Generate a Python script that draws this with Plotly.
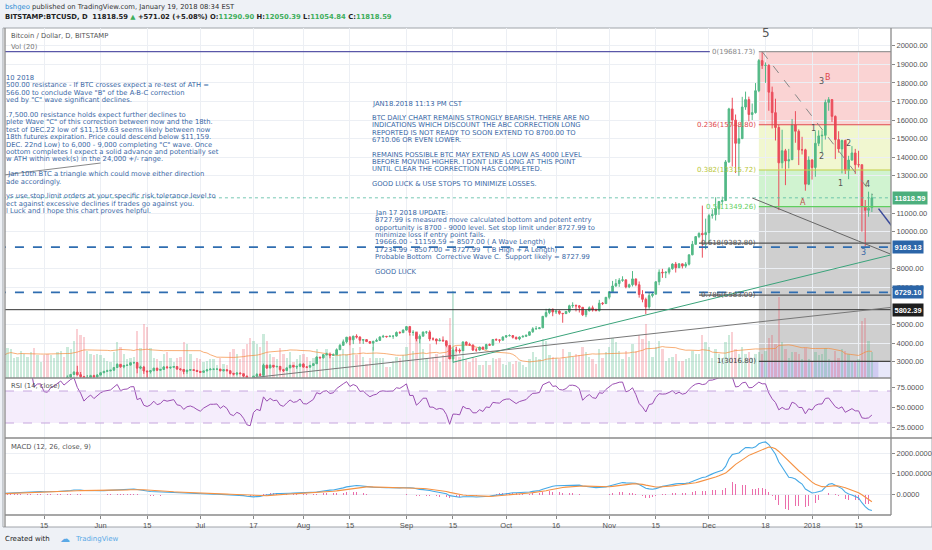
import pandas as pd
import plotly.graph_objects as go

W, H = 932, 550

# ---- data -------------------------------------------------------------
start_date = "2017-05-01"
warmup_closes = [1180, 1185, 1205, 1211, 1222, 1251, 1257, 1245, 1250, 1249, 1265, 1290, 1338, 1330, 1340, 1351]

closes = [
    # May
    1421, 1452, 1490, 1537, 1555, 1578, 1596, 1723, 1755, 1787, 1848, 1724, 1804, 1809, 1739, 1734, 1839, 1888,
    1987, 2084, 2041, 2173, 2320, 2443, 2304, 2203, 2038, 2155, 2255, 2175, 2286,
    # Jun
    2407, 2488, 2515, 2545, 2691, 2863, 2732, 2805, 2823, 2947, 2958, 2659, 2717, 2506, 2464, 2518, 2655, 2548,
    2589, 2721, 2689, 2705, 2744, 2608, 2590, 2478, 2552, 2574, 2539, 2480,
    # Jul
    2434, 2506, 2564, 2601, 2601, 2608, 2518, 2571, 2518, 2372, 2337, 2398, 2357, 2233, 1977, 1929, 2228, 2318,
    2273, 2817, 2667, 2810, 2730, 2754, 2577, 2529, 2671, 2809, 2726, 2757, 2875,
    # Aug
    2718, 2710, 2804, 2895, 3252, 3213, 3378, 3419, 3342, 3381, 3650, 3884, 4073, 4325, 4181, 4376, 4331, 4160,
    4193, 4087, 4001, 4100, 4151, 4334, 4371, 4352, 4382, 4382, 4579, 4565, 4703,
    # Sep
    4892, 4578, 4582, 4236, 4376, 4597, 4599, 4228, 4226, 4122, 4161, 4130, 3882, 3154, 3637, 3625, 3582, 4065,
    3924, 3905, 3631, 3630, 3792, 3682, 3926, 3892, 4200, 4174, 4163, 4338,
    # Oct
    4403, 4409, 4317, 4229, 4328, 4370, 4426, 4610, 4772, 4781, 4826, 5446, 5648, 5831, 5678, 5725, 5605, 5590,
    5708, 6011, 6031, 6008, 5930, 5526, 5750, 5904, 5780, 5753, 6153, 6130, 6468,
    # Nov
    6767, 7078, 7207, 7379, 7407, 7022, 7144, 7459, 7143, 6618, 6357, 5950, 6559, 6635, 7301, 7815, 7786, 7817,
    8007, 8255, 8059, 8268, 8148, 8250, 8753, 9318, 9733, 9906, 9837, 9946,
    # Dec
    10861, 10912, 11246, 11623, 11667, 13750, 16600, 16000, 14750, 15000, 16700, 17100, 16300, 16400, 17580,
    19200, 18940, 18950, 17500, 16400, 15600, 13700, 14350, 13800, 13870, 15750, 15400, 14400, 14400, 12550, 13850,
    # Jan
    13450, 14750, 15150, 15180, 16950, 17100, 16200, 14950, 14450, 14900, 13300, 13850, 14230, 13600, 13600,
    11350, 11150, 11247.57, 11818.59,
]

highs = [
    1430, 1473, 1496, 1614, 1609, 1596, 1625, 1728, 1800, 1795, 1872, 1850, 1808, 1830, 1810, 1768, 1861, 1900,
    1987, 2095, 2100, 2269, 2320, 2489, 2785, 2450, 2240, 2290, 2300, 2301, 2339,
    2435, 2488, 2570, 2568, 2700, 2913, 2870, 2806, 2840, 2950, 3000, 2980, 2790, 2780, 2520, 2528, 2680, 2675,
    2620, 2770, 2780, 2730, 2765, 2746, 2660, 2600, 2560, 2605, 2590, 2555,
    2510, 2520, 2615, 2655, 2630, 2622, 2612, 2575, 2590, 2530, 2408, 2420, 2420, 2370, 2240, 2060, 2240, 2390,
    2395, 2900, 2840, 2860, 2825, 2775, 2770, 2620, 2695, 2835, 2810, 2765, 2905,
    2920, 2760, 2815, 2900, 3290, 3265, 3410, 3490, 3425, 3450, 3720, 3965, 4200, 4330, 4380, 4400, 4480, 4370,
    4200, 4200, 4110, 4130, 4250, 4370, 4450, 4385, 4400, 4395, 4630, 4640, 4745,
    4925, 4930, 4700, 4585, 4475, 4630, 4660, 4690, 4315, 4240, 4275, 4365, 4130, 3900, 3780, 3815, 3720, 4100,
    4090, 4025, 3915, 3750, 3800, 3800, 3970, 3985, 4215, 4260, 4200, 4360,
    4410, 4475, 4435, 4355, 4365, 4420, 4455, 4620, 4860, 4920, 4870, 5450, 5850, 5850, 5855, 5780, 5770, 5610,
    5720, 6070, 6200, 6080, 6050, 5940, 5800, 5980, 6020, 5860, 6330, 6210, 6470,
    6780, 7350, 7450, 7500, 7600, 7420, 7200, 7880, 7460, 7320, 6850, 6450, 6750, 6740, 7330, 7970, 8000, 7860,
    8100, 8300, 8370, 8300, 8270, 8360, 8770, 9500, 9740, 9960, 11400, 10700,
    10960, 11200, 11850, 11650, 11880, 13850, 16660, 17200, 16300, 15700, 17250, 17530, 17260, 16890, 17990,
    19280, 19666, 19100, 19000, 17800, 17150, 15750, 15480, 14450, 14450, 16060, 16480, 15500, 15100, 14460, 14050,
    13900, 15400, 15450, 15450, 17100, 17234.99, 17120, 16250, 15400, 14950, 14950, 14080, 14600, 14450, 14350,
    13600, 11700, 12150, 12050.39,
]

lows = [
    1347, 1412, 1440, 1490, 1500, 1546, 1545, 1592, 1711, 1722, 1784, 1682, 1612, 1778, 1675, 1660, 1713, 1817,
    1880, 1980, 1990, 2034, 2150, 2300, 2260, 1980, 1810, 2022, 2113, 2135, 2145,
    2275, 2400, 2460, 2483, 2530, 2685, 2680, 2654, 2775, 2810, 2890, 2380, 2600, 2350, 2120, 2370, 2500, 2500,
    2520, 2580, 2620, 2620, 2690, 2580, 2520, 2330, 2355, 2505, 2520, 2465,
    2395, 2405, 2500, 2560, 2550, 2590, 2485, 2480, 2515, 2320, 2270, 2265, 2340, 2160, 1970, 1840, 1925, 2210,
    2255, 2265, 2620, 2655, 2680, 2710, 2470, 2450, 2525, 2665, 2695, 2620, 2730,
    2680, 2660, 2705, 2780, 2880, 3160, 3175, 3340, 3190, 3325, 3370, 3630, 3860, 3990, 3890, 3950, 4250, 3970,
    3960, 4060, 3980, 3600, 4080, 4120, 4300, 4300, 4330, 4235, 4355, 4510, 4560,
    4680, 4410, 4400, 4100, 3995, 4370, 4500, 4110, 4140, 3935, 4115, 4075, 3780, 3150, 2975, 3515, 3450, 3580,
    3860, 3860, 3580, 3540, 3600, 3660, 3680, 3870, 3890, 4150, 4030, 4155,
    4280, 4370, 4250, 4210, 4160, 4325, 4330, 4415, 4560, 4735, 4760, 4825, 5380, 5560, 5450, 5570, 5530, 5100,
    5570, 5620, 5900, 5710, 5650, 5460, 5400, 5700, 5700, 5720, 5700, 6050, 6110,
    6360, 6765, 7030, 7030, 7300, 6950, 6960, 7050, 7060, 6450, 6200, 5560, 5850, 6460, 6630, 7120, 7515, 7500,
    7700, 7950, 7800, 8050, 8020, 8050, 8180, 8730, 9300, 9650, 8600, 9050,
    9400, 10700, 10600, 10900, 11460, 11650, 13700, 13500, 13150, 13000, 15000, 16550, 15930, 16000, 16350,
    17500, 18750, 18000, 16500, 15550, 14900, 11159.63, 13400, 12500, 13400, 13870, 14780, 13580, 14150, 12200, 12500,
    12800, 12950, 14600, 14200, 14950, 16500, 15900, 13900, 14250, 13130, 13100, 12820, 13820, 13100, 13450,
    10000, 9200, 10800, 11054.84,
]

volumes = [
    14000, 15000, 19000, 21000, 20000, 14000, 15000, 19000, 17000, 15000, 18000, 21000, 16000, 11000, 16000, 17000,
    16000, 14000, 18000, 19000, 15000, 22000, 20000, 26000, 34000, 30000, 29000, 19000, 17000, 16000, 17000,
    16000, 14000, 12000, 11000, 18000, 25000, 22000, 17000, 13000, 14000, 15000, 33000, 21000, 38000, 36000, 21000,
    14000, 13000, 12000, 17000, 18000, 14000, 11000, 14000, 15000, 25000, 24000, 17000, 12000, 14000,
    13000, 11000, 12000, 13000, 13000, 9000, 14000, 10000, 9000, 18000, 20000, 17000, 13000, 20000, 24000, 28000,
    26000, 24000, 22000, 31000, 26000, 17000, 15000, 13000, 21000, 17000, 14000, 18000, 11000, 13000, 16000,
    17000, 15000, 12000, 14000, 20000, 13000, 17000, 20000, 18000, 15000, 18000, 17000, 20000, 17000, 27000, 21000,
    16000, 22000, 15000, 10000, 14000, 22000, 14000, 14000, 14000, 8000, 8000, 12000, 15000, 14000, 16000,
    22000, 31000, 19000, 33000, 28000, 20000, 13000, 24000, 15000, 17000, 11000, 16000, 25000, 42000, 61000, 22000,
    15000, 18000, 13000, 11000, 15000, 14000, 9000, 9000, 12000, 9000, 14000, 13000, 14000, 10000,
    9000, 11000, 10000, 12000, 11000, 9000, 8000, 13000, 18000, 15000, 13000, 27000, 26000, 16000, 15000, 14000,
    13000, 20000, 14000, 18000, 15000, 17000, 16000, 22000, 18000, 15000, 13000, 10000, 20000, 14000, 18000,
    22000, 28000, 25000, 19000, 13000, 19000, 15000, 24000, 19000, 30000, 27000, 38000, 26000, 15000, 22000, 26000,
    20000, 12000, 14000, 15000, 17000, 12000, 12000, 13000, 14000, 19000, 17000, 17000, 30000, 25000,
    22000, 14000, 20000, 17000, 14000, 25000, 30000, 32000, 20000, 17000, 22000, 17000, 18000, 14000, 17000, 18000,
    17000, 19000, 28000, 30000, 24000, 57000, 25000, 20000, 14000, 18000, 18000, 17000, 13000, 21000, 13000,
    12000, 18000, 16000, 17000, 21000, 13000, 12000, 19000, 14000, 20000, 19000, 17000, 11000, 12000, 13000,
    40000, 42000, 26000, 18000,
]

last_open, last_high, last_low, last_close = 11290.90, 12050.39, 11054.84, 11818.59
last_change, last_change_pct = 571.02, 5.08

fib_levels = [0, 0.236, 0.382, 0.5, 0.618, 0.786, 1]
fib_prices = [19681.73, 15748.80, 13315.72, 11349.26, 9382.80, 6583.09, 3016.80]
fib_start = "2017-12-16"

dashed_levels = [9163.13, 6729.10]
black_level = 5802.39

# trend lines drawn on the chart: (date, price) anchors
green_trend = [("2017-09-15", 2975), ("2018-01-25", 8760)]
gray_trend = [("2017-07-17", 2150), ("2018-01-25", 5930)]
down_trend = [("2017-12-14", 11810), ("2018-01-24 12:00", 8800)]
fib_diag = [("2017-12-17", 19681.73), ("2018-01-19 06:00", 11970)]
arrow_line = [("2018-01-21", 11240), ("2018-01-25", 10300)]
note_line = [("2017-05-03", 13050), ("2017-06-01", 13690)]

wave_labels = [
    ("2017-12-18", 20683, "5"), ("2018-01-05 18:00", 18315, "B"), ("2018-01-03 22:00", 18050, "3"),
    ("2018-01-01 10:00", 15557, "1"), ("2018-01-03 18:00", 14030, "2"), ("2018-01-11 22:00", 14750, "2"),
    ("2018-01-09 14:00", 12598, "1"), ("2018-01-17 16:00", 12560, "4"), ("2017-12-29 08:00", 11555, "A"),
    ("2018-01-16 14:00", 8888, "3"),
]

left_note = [
    "10 2018",
    "500.00 resistance - If BTC crosses expect a re-test of ATH =",
    "566.00 to conclude Wave \"B\" of tbe A-B-C correction",
    "ved by \"C\" wave significant declines.",
    "",
    ".7,500.00 resistance holds expect further declines to",
    "plete Wave \"C\" of this correction between now and the 18th.",
    "test of DEC.22 low of $11,159.63 seems likely between now",
    "18th futures expiration. Price could descend below $11,159.",
    "DEC. 22nd Low) to 6,000 - 9,000 completing \"C\" wave. Once",
    "oottom completes I expect a solid advance and potentially set",
    "w ATH within week(s) in the 24,000 +/- range.",
    "",
    " Jan 10th BTC a triangle which could move either direction",
    "ade accordingly.",
    "",
    "ys use stop limit orders at your specific risk tolerance level to",
    "ect against excessive declines if trades go against you.",
    "l Luck and I hope this chart proves helpful.",
]

mid_note = [
    "JAN18.2018 11:13 PM CST",
    "",
    "BTC DAILY CHART REMAINS STRONGLY BEARISH. THERE ARE NO",
    "INDICATIONS WHICH DISCOUNT THE ABC CORRECTION LONG",
    "REPORTED IS NOT READY TO SOON EXTEND TO 8700.00 TO",
    "6710.06 OR EVEN LOWER.",
    "",
    "REMAINS POSSIBLE BTC MAY EXTEND AS LOW AS 4000 LEVEL",
    "BEFORE MOVING HIGHER. I DONT LIKE LONG AT THIS POINT",
    "UNTIL CLEAR THE CORRECTION HAS COMPLETED.",
    "",
    "GOOD LUCK & USE STOPS TO MINIMIZE LOSSES.",
]

update_note = [
    "Jan 17 2018 UPDATE:",
    "8727.99 is measured move calculated bottom and potent entry",
    "opportunity is 8700 - 9000 level. Set stop limit under 8727.99 to",
    "minimize loss if entry point fails.",
    "19666.00 - 11159.59 = 8507.00 ( A Wave Length)",
    "17234.99 - 8507.00 = 8727.99   ( B High + A Length)",
    "Probable Bottom  Corrective Wave C.  Support likely = 8727.99",
    "",
    "GOOD LUCK",
]

tick_dates = ["2017-05-15", "2017-06-01", "2017-06-15", "2017-07-01", "2017-07-17", "2017-08-01", "2017-08-15",
              "2017-09-01", "2017-09-15", "2017-10-01", "2017-10-16", "2017-11-01", "2017-11-15", "2017-12-01",
              "2017-12-18", "2018-01-01", "2018-01-15"]
tick_text = ["15", "Jun", "15", "Jul", "17", "Aug", "15", "Sep", "15", "Oct", "16", "Nov", "15", "Dec", "18",
             "2018", "15"]
price_ticks = [3000, 4000, 5000, 7000, 8000, 10000, 11000, 13000, 14000, 15000, 16000, 17000, 18000, 19000, 20000]

assert len(closes) == len(highs) == len(lows) == len(volumes)

# ---- derived series ---------------------------------------------------
dates = pd.date_range(start_date, periods=len(closes), freq="D")
opens = [warmup_closes[-1]] + closes[:-1]
opens[-1] = last_open

full = pd.Series(warmup_closes + closes, dtype=float)
n_warm = len(warmup_closes)

delta = full.diff()
avg_up = delta.clip(lower=0).ewm(alpha=1 / 14, adjust=False).mean()
avg_dn = (-delta.clip(upper=0)).ewm(alpha=1 / 14, adjust=False).mean()
rsi = (100 - 100 / (1 + avg_up / avg_dn)).iloc[n_warm:].values

macd = (full.ewm(span=12, adjust=False).mean() - full.ewm(span=26, adjust=False).mean())
signal = macd.ewm(span=9, adjust=False).mean()
hist = (macd - signal).iloc[n_warm:].values
macd = macd.iloc[n_warm:].values
signal = signal.iloc[n_warm:].values

vol_ma = pd.Series(volumes, dtype=float).rolling(20, min_periods=1).mean().values

GREEN, RED = "#53b987", "#eb4d5c"
up = [c >= o for o, c in zip(opens, closes)]
vol_colors = ["rgba(83,185,135,0.30)" if u else "rgba(235,77,92,0.26)" for u in up]

# ---- geometry helpers -------------------------------------------------
def PX(x):
    return x / W


def PY(y):
    return 1 - y / H


X0, X1 = 5, 891
MAIN = [PY(378), PY(28)]
RSI_D = [PY(438), PY(378)]
MACD_D = [PY(515), PY(438)]
NOTE = "#3b69a6"
FONT = "DejaVu Sans"
AXF = dict(family="Liberation Sans", size=7.5, color="#555")

fig = go.Figure()
fig.add_trace(go.Bar(x=dates, y=volumes, marker=dict(color=vol_colors, line_width=0),
                     width=0.7 * 86400000, xaxis="x", yaxis="y"))
fig.add_trace(go.Scatter(x=dates, y=vol_ma, mode="lines", line=dict(color="rgba(245,140,60,0.7)", width=1),
                         xaxis="x", yaxis="y"))
fig.add_trace(go.Candlestick(x=dates, open=opens, high=highs, low=lows, close=closes, whiskerwidth=0,
                             increasing=dict(line=dict(color=GREEN, width=1), fillcolor=GREEN),
                             decreasing=dict(line=dict(color=RED, width=1), fillcolor=RED),
                             xaxis="x", yaxis="y2"))
fig.add_trace(go.Scatter(x=dates, y=rsi, mode="lines", line=dict(color="#9b4fb3", width=1),
                         xaxis="x", yaxis="y3"))
fig.add_trace(go.Bar(x=dates, y=hist, marker=dict(color="rgba(232,85,156,0.85)", line_width=0),
                     width=0.22 * 86400000, xaxis="x", yaxis="y4"))
fig.add_trace(go.Scatter(x=dates, y=macd, mode="lines", line=dict(color="#46a9e6", width=1.1),
                         xaxis="x", yaxis="y4"))
fig.add_trace(go.Scatter(x=dates, y=signal, mode="lines", line=dict(color="#f59243", width=1.1),
                         xaxis="x", yaxis="y4"))

shapes = []
# chart box
shapes.append(dict(type="rect", xref="paper", yref="paper", x0=PX(3), x1=PX(932), y0=PY(527), y1=PY(28),
                   fillcolor="white", line=dict(color="#a0a4aa", width=1), layer="below"))

# fib bands
band_colors = ["rgba(240,110,110,0.30)", "rgba(225,238,150,0.45)", "rgba(150,228,150,0.45)",
               "rgba(140,140,140,0.42)", "rgba(140,140,140,0.42)", "rgba(140,140,140,0.42)"]
for i, col in enumerate(band_colors):
    shapes.append(dict(type="rect", xref="x", yref="y2", x0=fib_start, x1="2018-02-10",
                       y0=fib_prices[i + 1], y1=fib_prices[i], fillcolor=col, line_width=0, layer="below"))
shapes.append(dict(type="rect", xref="x", yref="y2", x0=fib_start, x1="2018-01-21", y0=0, y1=fib_prices[-1],
                   fillcolor="rgba(150,140,225,0.45)", line_width=0, layer="below"))
shapes.append(dict(type="rect", xref="x", yref="y2", x0="2018-01-21", x1="2018-02-10", y0=0, y1=fib_prices[-1],
                   fillcolor="rgba(190,190,240,0.35)", line_width=0, layer="below"))

fib_line_colors = ["#999", "#e0474c", "#c3cf45", "#5fcf5f", "#555", "#555", "#444"]
fib_text_colors = ["#888", "#e0474c", "#b9c637", "#5fcf5f", "#555", "#555", "#444"]
for p, col in zip(fib_prices, fib_line_colors):
    shapes.append(dict(type="line", xref="x", yref="y2", x0=fib_start, x1="2018-02-10", y0=p, y1=p,
                       line=dict(color=col, width=1.2)))
for p in fib_prices[4:6]:
    shapes.append(dict(type="line", xref="x", yref="y2", x0="2017-11-28", x1=fib_start, y0=p, y1=p,
                       line=dict(color="#555", width=1.2)))

# horizontal levels
shapes.append(dict(type="line", xref="x", yref="y2", x0="2017-04-20", x1="2017-12-01 06:00",
                   y0=fib_prices[0], y1=fib_prices[0], line=dict(color="#5a57a8", width=1.3)))
for p in dashed_levels:
    shapes.append(dict(type="line", xref="x", yref="y2", x0="2017-04-20", x1="2018-02-10", y0=p, y1=p,
                       line=dict(color="#2f6db0", width=1.8, dash="dash")))
shapes.append(dict(type="line", xref="x", yref="y2", x0="2017-04-20", x1="2018-02-10", y0=black_level,
                   y1=black_level, line=dict(color="#333", width=1)))
shapes.append(dict(type="line", xref="x", yref="y2", x0="2017-04-20", x1="2018-02-10", y0=last_close,
                   y1=last_close, line=dict(color="#53b9a0", width=0.8, dash="dot")))

# trend lines
for pts, col, w, dash in [(green_trend, "#3aa37a", 1, "solid"), (gray_trend, "#777", 1, "solid"),
                          (down_trend, "#666", 1, "solid"), (fib_diag, "#888", 1, "dash"),
                          (arrow_line, "#3a4a9a", 1.5, "solid"), (note_line, "#888", 1, "solid")]:
    shapes.append(dict(type="line", xref="x", yref="y2", x0=pts[0][0], y0=pts[0][1], x1=pts[1][0],
                       y1=pts[1][1], line=dict(color=col, width=w, dash=dash)))

# RSI band
shapes.append(dict(type="rect", xref="paper", yref="y3", x0=PX(X0), x1=PX(X1), y0=30, y1=70,
                   fillcolor="rgba(170,110,230,0.12)", line_width=0, layer="below"))
for lvl in (30, 70):
    shapes.append(dict(type="line", xref="paper", yref="y3", x0=PX(X0), x1=PX(X1), y0=lvl, y1=lvl,
                       line=dict(color="#c6a6de", width=1, dash="dash")))

# pane borders
for y, x1 in [(378, X1), (438, 932), (515, X1)]:
    shapes.append(dict(type="line", xref="paper", yref="paper", x0=PX(X0), x1=PX(x1), y0=PY(y), y1=PY(y),
                       line=dict(color="#8a8a8a", width=1.3)))
shapes.append(dict(type="line", xref="paper", yref="paper", x0=PX(X1), x1=PX(X1), y0=PY(515), y1=PY(28),
                   line=dict(color="#8a8a8a", width=1.3)))
shapes.append(dict(type="line", xref="paper", yref="paper", x0=PX(X0), x1=PX(X0), y0=PY(527), y1=PY(28),
                   line=dict(color="#8a8a8a", width=1.3)))

ann = []


def txt(x, y, s, color="#555", size=6.8, anchor="left", family=FONT, **kw):
    ann.append(dict(x=PX(x), y=PY(y), xref="paper", yref="paper", text=s, showarrow=False,
                    xanchor=anchor, yanchor="middle", font=dict(family=family, size=size, color=color), **kw))


# header
txt(3, 7, "<span style='color:#2a8ad4'>bshgeo</span> published on TradingView.com, January 19, 2018 08:34 EST",
    color="#333")
hdr = (f"<b>BITSTAMP:BTCUSD, D  {last_close:.2f} <span style='color:#3fae5c'>▲</span> "
       f"+{last_change:.2f} (+{last_change_pct:.2f}%) O:<span style='color:#3fae5c'>{last_open:.2f}</span> "
       f"H:<span style='color:#3fae5c'>{last_high:.2f}</span> L:<span style='color:#3fae5c'>{last_low:.2f}</span> "
       f"C:<span style='color:#3fae5c'>{last_close:.2f}</span></b>")
txt(3, 17, hdr, color="#222")
txt(9, 36, "Bitcoin / Dollar, D, BITSTAMP", color="#555")
txt(9, 47, "Vol (20)", color="#777")
txt(9, 386, "RSI (14, close)", color="#555")
txt(9, 447, "MACD (12, 26, close, 9)", color="#555")
txt(3, 539, "Created with", color="#222", size=7)
txt(58, 538, "☁", color="#5aa9e6", size=10)
txt(73, 539, "TradingView", color="#5aa9e6", size=7)

# notes
for i, s in enumerate(left_note):
    if s:
        txt(4, 78 + i * 7.4, s, color=NOTE)
for i, s in enumerate(mid_note):
    if s:
        txt(370, 103.5 + i * 7.3, s, color=NOTE)
for i, s in enumerate(update_note):
    if s:
        txt(373, 213 + i * 7.35, s, color=NOTE)

# fib labels
for lvl, p, col in zip(fib_levels, fib_prices, fib_text_colors):
    ann.append(dict(x=fib_start, y=p, xref="x", yref="y2", text=f"{lvl:g}({p:.2f})", showarrow=False,
                    xanchor="right", yanchor="middle", xshift=-1,
                    font=dict(family=FONT, size=7, color=col)))

# wave labels
for d, p, s in wave_labels:
    col = "#e0474c" if s == "B" else ("#c0504d" if s == "A" else "#555")
    if p < 9000:
        col = NOTE
    ann.append(dict(x=d, y=p, xref="x", yref="y2", text=s, showarrow=False,
                    font=dict(family=FONT, size=12 if p > 20000 else 8, color=col)))

# price boxes on the right axis
for p, bg in [(last_close, "#4caf7d"), (dashed_levels[0], "#2b65a8"), (dashed_levels[1], "#2b65a8"),
              (black_level, "#1e1e1e")]:
    ann.append(dict(x=PX(X1), y=p, xref="paper", yref="y2", text=f"<b>{p:.2f}</b>", showarrow=False,
                    xanchor="left", yanchor="middle", bgcolor=bg, borderpad=1.5, xshift=1,
                    font=dict(family="Liberation Sans", size=7.5, color="white")))

grid = "#eceff4"
fig.update_layout(
    width=W, height=H, margin=dict(l=0, r=0, t=0, b=0),
    paper_bgcolor="#eef1f6", plot_bgcolor="white", showlegend=False, hovermode=False,
    bargap=0,
    xaxis=dict(domain=[PX(X0), PX(X1)], range=["2017-05-03 06:00", "2018-01-24 18:00"], anchor="y4",
               tickvals=tick_dates, ticktext=tick_text, tickfont=AXF, ticks="outside", ticklen=3,
               tickcolor="#888", showgrid=True, gridcolor=grid, zeroline=False, rangeslider=dict(visible=False),
               showline=False),
    yaxis=dict(domain=MAIN, range=[0, 245000], visible=False, showgrid=False, anchor="x"),
    yaxis2=dict(overlaying="y", side="right", anchor="x", range=[2128, 20952],
                tickvals=price_ticks, tickformat=".2f", tickfont=AXF, ticks="outside",
                ticklen=3, tickcolor="#888", showgrid=True, gridcolor=grid, zeroline=False),
    yaxis3=dict(domain=RSI_D, side="right", anchor="x", range=[11.25, 86.25], tickvals=[25, 50, 75],
                tickformat=".4f", tickfont=AXF, ticks="outside", ticklen=3, tickcolor="#888",
                showgrid=False, zeroline=False),
    yaxis4=dict(domain=MACD_D, side="right", anchor="x", range=[-986, 2729], tickvals=[0, 1000, 2000],
                tickformat=".4f", tickfont=AXF, ticks="outside", ticklen=3, tickcolor="#888",
                showgrid=True, gridcolor=grid, zeroline=False),
    shapes=shapes, annotations=ann,
)

fig.write_html("out.html", config={"displayModeBar": False},
               post_script="document.body.style.margin='0';")
